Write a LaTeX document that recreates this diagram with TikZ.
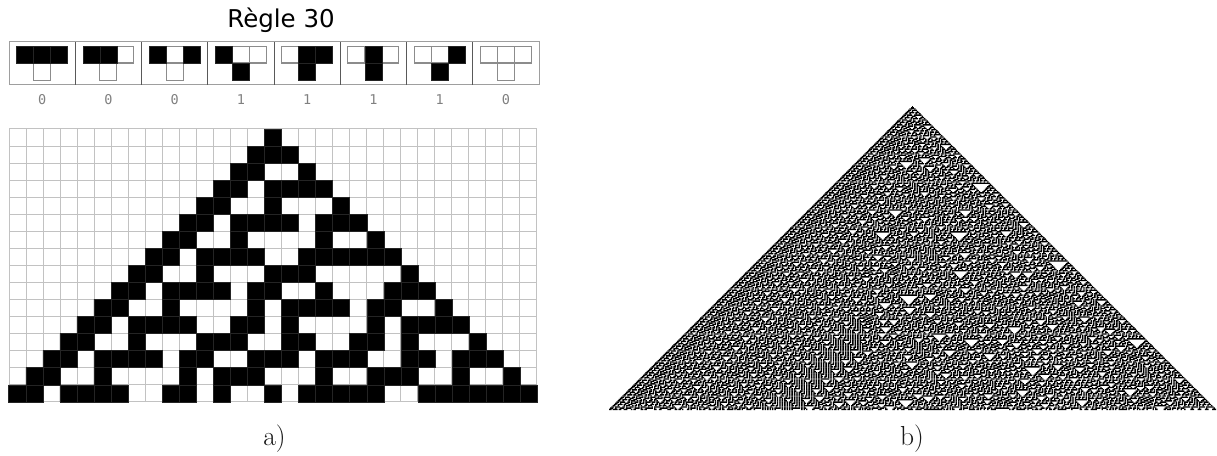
\documentclass[tikz,border=0pt]{standalone}
\usepackage{fontspec}
\newfontfamily\titlefont{DejaVu Sans}
\newfontfamily\digitfont{DejaVu Sans Mono}
\definecolor{gridgray}{gray}{0.76}
\definecolor{framegray}{gray}{0.62}
\definecolor{boxgray}{gray}{0.55}
\definecolor{sepgray}{gray}{0.14}
\tikzset{
  titletext/.style={font=\titlefont\fontsize{24.5}{28}\selectfont,inner sep=0pt,anchor=base},
  digittext/.style={font=\digitfont\fontsize{13.5}{15}\selectfont,text=black!50,inner sep=0pt},
  captext/.style={font=\rmfamily\fontsize{27.5}{30}\selectfont,inner sep=0pt,anchor=base,text=black!90},
  framebox/.style={draw=framegray,line width=1pt},
  divider/.style={draw=black!65,line width=0.9pt},
  ruleoff/.style={draw=boxgray,fill=white,line width=1.1pt},
  ruleon/.style={draw=sepgray,fill=black,line width=0.5pt},
  gridline/.style={draw=gridgray,line width=1pt}
}
\makeatletter
\newcount\rtRow \newcount\rtI \newcount\rtL \newcount\rtOld \newcount\rtStart \newcount\rtLo \newcount\rtHi \newcount\rtN
\newdimen\rtCell \newdimen\rtCx \newdimen\rtTop \newdimen\rtPad
\newif\ifrtMerge
\def\rtC#1{\count\numexpr20000+#1\relax}
\def\rtCenter{2000}
% clear the register array
\def\rtClear{\rtI=0 \rtClearLoop}
\def\rtClearLoop{\ifnum\rtI<4001 \global\rtC{\rtI}=0 \advance\rtI 1 \expandafter\rtClearLoop\fi}
% add rectangle for columns #1..#2 (inclusive) of the current row
\def\rtRect#1#2{%
  \pgfpathrectanglecorners
   {\pgfqpoint{\dimexpr\rtCx+\rtCell*\numexpr#1-\rtCenter\relax-\rtCell/2-\rtPad\relax}{\dimexpr\rtTop-\rtCell*\rtRow+\rtPad\relax}}%
   {\pgfqpoint{\dimexpr\rtCx+\rtCell*\numexpr#2-\rtCenter\relax+\rtCell/2+\rtPad\relax}{\dimexpr\rtTop-\rtCell*\numexpr\rtRow+1\relax-\rtPad\relax}}%
}
\def\rtScan{%
  \ifnum\rtI>\rtHi\else
    \ifnum\rtC{\rtI}=1
      \ifnum\rtStart<0 \rtStart=\rtI \fi
      \ifrtMerge\else \rtRect{\rtStart}{\rtI}\rtStart=-1 \fi
    \else
      \ifnum\rtStart<0 \else \rtRect{\rtStart}{\numexpr\rtI-1\relax}\rtStart=-1 \fi
    \fi
    \advance\rtI 1
    \expandafter\rtScan
  \fi}
\def\rtStep{%
  \ifnum\rtI>\rtHi\else
    \rtOld=\rtC{\rtI}%
    \ifcase\numexpr\rtL*4+\rtOld*2+\rtC{\numexpr\rtI+1\relax}\relax
      \global\rtC{\rtI}=0 \or\global\rtC{\rtI}=1 \or\global\rtC{\rtI}=1 \or\global\rtC{\rtI}=1 \or\global\rtC{\rtI}=1 \else\global\rtC{\rtI}=0 \fi
    \rtL=\rtOld
    \advance\rtI 1
    \expandafter\rtStep
  \fi}
\def\rtRows{%
  \ifnum\rtRow<\rtN
    \rtLo=\numexpr\rtCenter-\rtRow\relax \rtHi=\numexpr\rtCenter+\rtRow\relax
    \rtI=\rtLo \rtStart=-1 \rtScan
    \ifnum\rtStart<0 \else \rtRect{\rtStart}{\rtHi}\fi
    \rtUse
    \rtLo=\numexpr\rtLo-1\relax \rtHi=\numexpr\rtHi+1\relax
    \rtI=\rtLo \rtL=0 \rtStep
    \advance\rtRow 1
    \expandafter\rtRows
  \fi}
% #1 rows, #2 cell, #3 apex x, #4 top y
\def\ruleThirty#1#2#3#4{%
  \rtClear \global\rtC{\rtCenter}=1
  \rtN=#1 \rtCell=#2 \rtCx=#3 \rtTop=#4 \rtRow=0
  \rtRows}
\makeatother
\begin{document}
\begin{tikzpicture}[x=1pt,y=1pt]
\useasboundingbox (0,0) rectangle (1217,455);
\fill[white] (0,0) rectangle (1217,455);
% title
\node[titletext] (title) at (281,427) {Règle 30};
% rule table frame
\coordinate (frameSW) at (9,370);
\coordinate (frameNE) at (539,413);
\draw[framebox] (frameSW) rectangle (frameNE);
\foreach \k in {1,...,7}
  \draw[divider] ({9+66.25*\k},370) -- ({9+66.25*\k},413);
% rule table cells: pattern = left, centre, right, result
\foreach \k/\a/\b/\c/\r in {0/1/1/1/0,1/1/1/0/0,2/1/0/1/0,3/1/0/0/1,4/0/1/1/1,5/0/1/0/1,6/0/0/1/1,7/0/0/0/0}{
  \pgfmathsetmacro{\cx}{9+66.25*(\k+0.5)}
  \foreach \i/\v in {-1/\a,0/\b,1/\c}{
    \ifnum\v=0 \draw[ruleoff] ({\cx+17*\i-8.5},408.5) rectangle ({\cx+17*\i+8.5},392);\fi
  }
  \ifnum\r=0 \draw[ruleoff] ({\cx-8.5},392) rectangle ({\cx+8.5},374.5);\fi
  \foreach \i/\v in {-1/\a,0/\b,1/\c}{
    \ifnum\v=1 \draw[ruleon] ({\cx+17*\i-8.5},408.5) rectangle ({\cx+17*\i+8.5},392);\fi
  }
  \ifnum\r=1 \draw[ruleon] ({\cx-8.5},392) rectangle ({\cx+8.5},374.5);\fi
  \node[digittext] (d\k) at (\cx,355) {\r};
}
% left grid
\foreach \i in {0,...,31}
  \draw[gridline] ({9+\i*17.03},53) -- ({9+\i*17.03},326);
\foreach \j in {0,...,16}
  \draw[gridline] (9,{326-\j*17.06}) -- (537,{326-\j*17.06});
\begin{scope}
  \pgfsetfillcolor{black}\pgfsetstrokecolor{sepgray}\pgfsetlinewidth{0.5pt}
  \rtMergefalse \rtPad=0pt
  \def\rtUse{\pgfusepath{fill,stroke}}
  \ruleThirty{16}{17.05pt}{273pt}{326pt}
\end{scope}
% right pattern
\begin{scope}
  \pgfsetfillcolor{black}
  \rtMergetrue \rtPad=0.1pt
  \def\rtUse{\pgfusepath{fill}}
  \ruleThirty{250}{1.216pt}{912.5pt}{349pt}
\end{scope}
% captions
\node[captext] (capa) at (274.5,10) {a)};
\node[captext] (capb) at (912,10) {b)};
\end{tikzpicture}
\end{document}
